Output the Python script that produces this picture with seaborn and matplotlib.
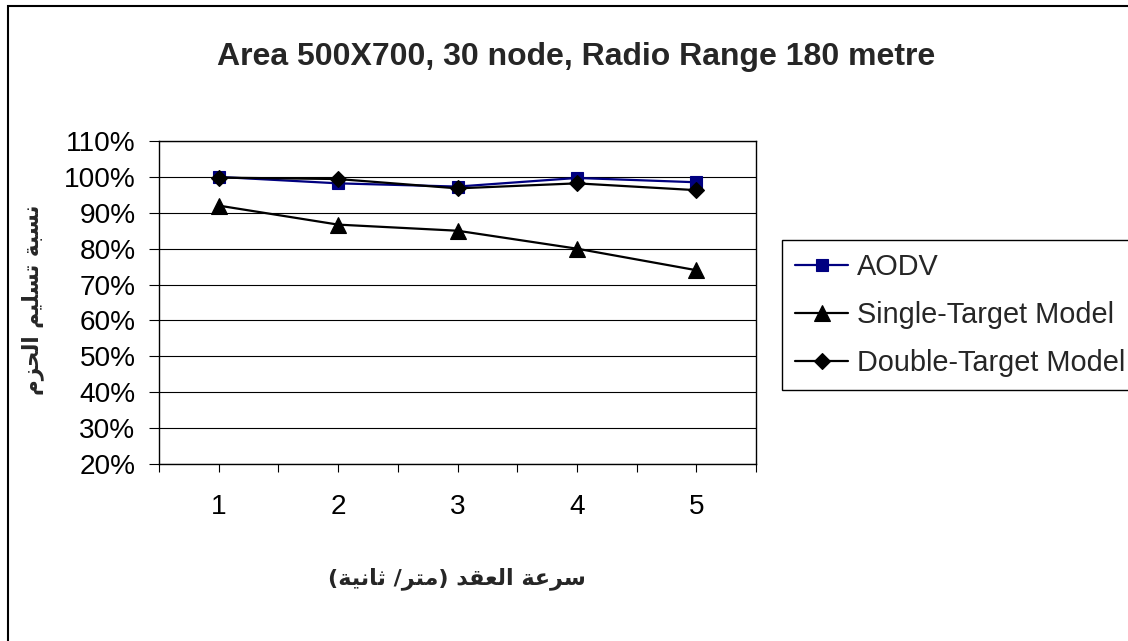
import numpy as np
import pandas as pd
import matplotlib
matplotlib.use("Agg")
import matplotlib.pyplot as plt
from matplotlib.ticker import PercentFormatter, FixedLocator
from matplotlib.patches import Rectangle
import seaborn as sns

# ---------------- data ----------------
speeds = [1, 2, 3, 4, 5]
aodv = [100.0, 98.2, 97.3, 99.7, 98.5]
single_target = [92.0, 86.7, 85.0, 80.0, 74.0]
double_target = [99.8, 99.4, 96.8, 98.2, 96.3]
series_names = ["AODV", "Single-Target Model", "Double-Target Model"]
title_text = "Area 500X700, 30 node, Radio Range 180 metre"
xlabel_ar = "سرعة العقد (متر/ ثانية)"
ylabel_ar = "نسبة تسليم الحزم"
y_ticks = [20, 30, 40, 50, 60, 70, 80, 90, 100, 110]

# ------------- minimal Arabic shaping (presentation forms, visual order) -------------
FORMS = {  # isolated, final, initial, medial
    "\u0627": ("\uFE8D", "\uFE8E", None, None),
    "\u0628": ("\uFE8F", "\uFE90", "\uFE91", "\uFE92"),
    "\u0629": ("\uFE93", "\uFE94", None, None),
    "\u062A": ("\uFE95", "\uFE96", "\uFE97", "\uFE98"),
    "\u062B": ("\uFE99", "\uFE9A", "\uFE9B", "\uFE9C"),
    "\u062D": ("\uFEA1", "\uFEA2", "\uFEA3", "\uFEA4"),
    "\u062F": ("\uFEA9", "\uFEAA", None, None),
    "\u0631": ("\uFEAD", "\uFEAE", None, None),
    "\u0632": ("\uFEAF", "\uFEB0", None, None),
    "\u0633": ("\uFEB1", "\uFEB2", "\uFEB3", "\uFEB4"),
    "\u0639": ("\uFEC9", "\uFECA", "\uFECB", "\uFECC"),
    "\u0642": ("\uFED5", "\uFED6", "\uFED7", "\uFED8"),
    "\u0644": ("\uFEDD", "\uFEDE", "\uFEDF", "\uFEE0"),
    "\u0645": ("\uFEE1", "\uFEE2", "\uFEE3", "\uFEE4"),
    "\u0646": ("\uFEE5", "\uFEE6", "\uFEE7", "\uFEE8"),
    "\u064A": ("\uFEF1", "\uFEF2", "\uFEF3", "\uFEF4"),
}
MIRROR = {"(": ")", ")": "("}


def shape_arabic(text):
    out = []
    n = len(text)
    for i, ch in enumerate(text):
        if ch not in FORMS:
            out.append(ch)
            continue
        iso, fin, ini, med = FORMS[ch]
        prev = text[i - 1] if i > 0 else None
        nxt = text[i + 1] if i < n - 1 else None
        prev_joins = prev in FORMS and FORMS[prev][2] is not None
        next_joins = ini is not None and nxt in FORMS
        if prev_joins and next_joins:
            out.append(med)
        elif prev_joins:
            out.append(fin)
        elif next_joins:
            out.append(ini)
        else:
            out.append(iso)
    visual = "".join(MIRROR.get(c, c) for c in reversed(out))
    return visual


# ---------------- figure ----------------
sns.set_style("white")
plt.rcParams["font.family"] = ["Liberation Sans", "DejaVu Sans"]

W, H = 1128, 641
fig = plt.figure(figsize=(W / 100, H / 100), dpi=100)
ax = fig.add_axes([159 / W, 1 - 464 / H, (756 - 159) / W, (464 - 141) / H])

df = pd.DataFrame({
    "speed": speeds * 3,
    "value": aodv + single_target + double_target,
    "series": [series_names[0]] * 5 + [series_names[1]] * 5 + [series_names[2]] * 5,
})

palette = {series_names[0]: "#000080", series_names[1]: "black", series_names[2]: "black"}
markers = {series_names[0]: "s", series_names[1]: "^", series_names[2]: "D"}

sns.lineplot(data=df, x="speed", y="value", hue="series", style="series",
             hue_order=series_names, style_order=series_names,
             palette=palette, markers=markers, dashes=False,
             markersize=8, linewidth=1.6, markeredgewidth=0.8,
             errorbar=None, legend=False, ax=ax)

lines = ax.get_lines()[:3]
for ln, ms in zip(lines, [8.5, 11, 8]):
    ln.set_markersize(ms)
    ln.set_markeredgecolor(ln.get_color())
    ln.set_markerfacecolor(ln.get_color())

ax.set_xlim(0.5, 5.5)
ax.set_ylim(20, 110)
ax.xaxis.set_major_locator(FixedLocator(speeds))
ax.xaxis.set_minor_locator(FixedLocator([0.5, 1.5, 2.5, 3.5, 4.5, 5.5]))
ax.yaxis.set_major_locator(FixedLocator(y_ticks))
ax.yaxis.set_major_formatter(PercentFormatter(xmax=100, decimals=0))

ax.grid(axis="y", color="black", linewidth=0.8)
ax.grid(axis="x", visible=False)
for sp in ax.spines.values():
    sp.set_color("black")
    sp.set_linewidth(1.0)
    sp.set_visible(True)

ax.tick_params(axis="y", which="major", direction="out", length=7, width=0.8,
               color="black", pad=10, labelsize=20.2, labelcolor="black", left=True)
ax.tick_params(axis="x", which="both", direction="out", length=5.5, width=0.8,
               color="black", bottom=True)
ax.tick_params(axis="x", which="major", pad=16, labelsize=20.2, labelcolor="black")

ax.set_xlabel("")
ax.set_ylabel("")

# axis titles (Arabic, bold)
fig.text(457 / W, 1 - 579 / H, shape_arabic(xlabel_ar), ha="center", va="center",
         fontsize=16, fontweight="bold", family=["DejaVu Sans"])
fig.text(33 / W, 1 - 300 / H, shape_arabic(ylabel_ar), ha="center", va="center",
         rotation=90, fontsize=15.5, fontweight="bold", family=["DejaVu Sans"])

# chart title
fig.text(576 / W, 1 - 57 / H, title_text, ha="center", va="center",
         fontsize=23, fontweight="bold")

# legend
leg = ax.legend(lines, series_names, loc="upper left",
                bbox_to_anchor=(782 / W, 1 - 240 / H), bbox_transform=fig.transFigure,
                borderaxespad=0, frameon=True, fancybox=False, framealpha=1,
                edgecolor="black", fontsize=20.8, handlelength=1.85,
                handletextpad=0.3, labelspacing=0.7, borderpad=0.45)
leg.get_frame().set_linewidth(1.0)

# outer chart border
fig.patches.append(Rectangle((8 / W, -0.1), 1.2, 1 - 6 / H + 0.1, transform=fig.transFigure,
                             fill=False, edgecolor="black", linewidth=1.5, figure=fig))

fig.savefig("out.png", dpi=100, facecolor="white")
